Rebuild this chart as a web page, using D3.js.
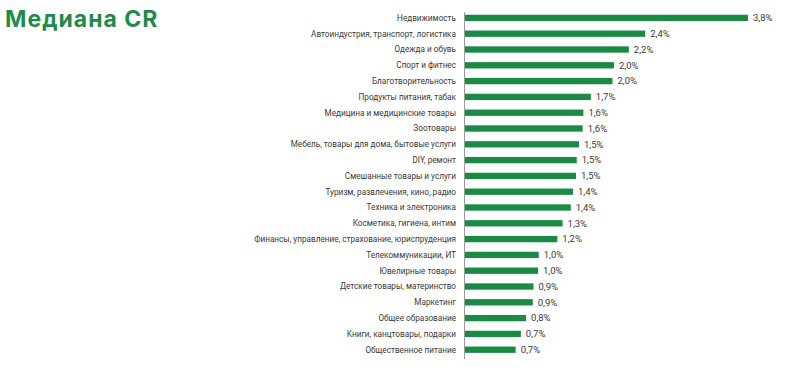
<!DOCTYPE html>
<html>
<head>
<meta charset="utf-8">
<script src="https://cdn.jsdelivr.net/npm/d3@7"></script>
<style>
  body { margin: 0; background: #fff; }
  svg { display: block; }
</style>
</head>
<body>
<div id="chart"></div>
<script>
const title = "Медиана CR";

const categories = [
  "Недвижимость",
  "Автоиндустрия, транспорт, логистика",
  "Одежда и обувь",
  "Спорт и фитнес",
  "Благотворительность",
  "Продукты питания, табак",
  "Медицина и медицинские товары",
  "Зоотовары",
  "Мебель, товары для дома, бытовые услуги",
  "DIY, ремонт",
  "Смешанные товары и услуги",
  "Туризм, развлечения, кино, радио",
  "Техника и электроника",
  "Косметика, гигиена, интим",
  "Финансы, управление, страхование, юриспруденция",
  "Телекоммуникации, ИТ",
  "Ювелирные товары",
  "Детские товары, материнство",
  "Маркетинг",
  "Общее образование",
  "Книги, канцтовары, подарки",
  "Общественное питание"
];

// bar lengths (%)
const values = [3.8, 2.42, 2.2, 2.0, 1.98, 1.69, 1.59, 1.58, 1.53, 1.5, 1.49,
  1.45, 1.42, 1.31, 1.24, 0.99, 0.98, 0.92, 0.91, 0.82, 0.75, 0.68];

// printed value labels
const valueLabels = ["3,8%", "2,4%", "2,2%", "2,0%", "2,0%", "1,7%", "1,6%", "1,6%",
  "1,5%", "1,5%", "1,5%", "1,4%", "1,4%", "1,3%", "1,2%", "1,0%", "1,0%", "0,9%",
  "0,9%", "0,8%", "0,7%", "0,7%"];

const W = 794, H = 368;
const green = "#1b8a45";

const svg = d3.select("#chart").append("svg")
    .attr("width", W)
    .attr("height", H);

svg.append("text")
    .attr("x", 5)
    .attr("y", 27)
    .attr("fill", "#1f8b4b")
    .style("font-family", "Inter, 'Noto Sans', sans-serif")
    .style("font-weight", 700)
    .style("font-size", "23px")
    .style("letter-spacing", "1px")
    .text(title);

const data = categories.map((c, i) => ({ name: c, value: values[i], label: valueLabels[i] }));

const x = d3.scaleLinear()
    .domain([0, 3.8])
    .range([465, 748]);

const y = d3.scaleBand()
    .domain(categories)
    .range([10, 357.6])
    .paddingInner(0.6)
    .paddingOuter(0.3);

// bars
svg.append("g")
  .selectAll("rect")
  .data(data)
  .join("rect")
    .attr("x", x(0))
    .attr("y", d => y(d.name))
    .attr("width", d => x(d.value) - x(0))
    .attr("height", y.bandwidth())
    .attr("fill", green);

// category labels
svg.append("g")
    .style("font-family", "Roboto, sans-serif")
    .style("font-size", "8.2px")
    .attr("fill", "#3a3a3a")
  .selectAll("text")
  .data(data)
  .join("text")
    .attr("x", 456)
    .attr("y", d => y(d.name) + y.bandwidth() / 2)
    .attr("dy", "0.35em")
    .attr("text-anchor", "end")
    .text(d => d.name);

// value labels
svg.append("g")
    .style("font-family", "Roboto, sans-serif")
    .style("font-size", "9.5px")
    .attr("fill", "#3a3a3a")
  .selectAll("text")
  .data(data)
  .join("text")
    .attr("x", d => x(d.value) + 5)
    .attr("y", d => y(d.name) + y.bandwidth() / 2)
    .attr("dy", "0.35em")
    .text(d => d.label);

// axis line
svg.append("line")
    .attr("x1", x(0) - 0.5)
    .attr("x2", x(0) - 0.5)
    .attr("y1", 12)
    .attr("y2", 359)
    .attr("stroke", "#9a9a9a")
    .attr("stroke-width", 1);
</script>
</body>
</html>
